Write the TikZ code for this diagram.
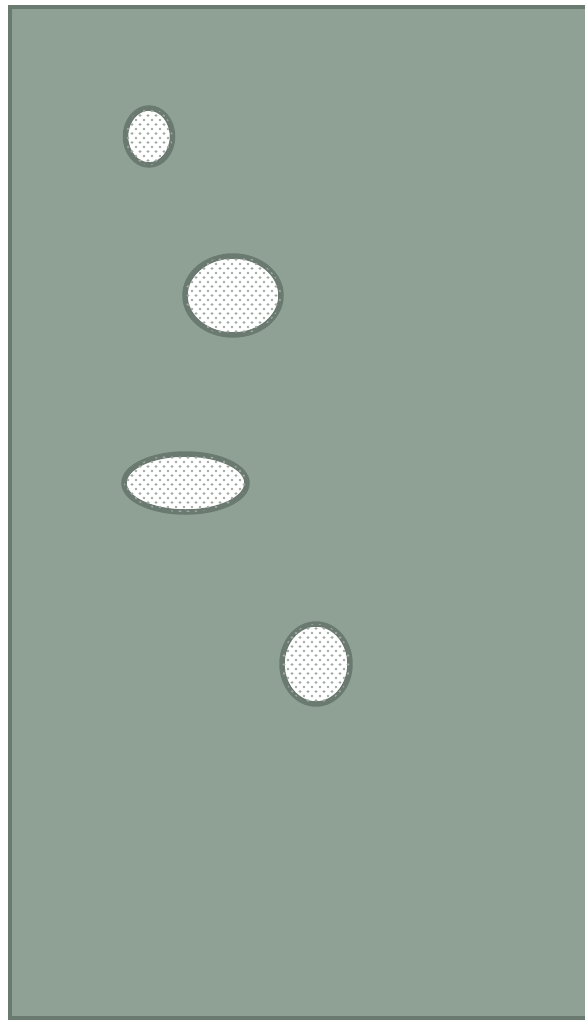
\documentclass[tikz,border=0pt]{standalone}
\usetikzlibrary{patterns.meta}
\definecolor{bgfill}{HTML}{8FA194}
\definecolor{edge}{HTML}{6A7A70}
\definecolor{dotc}{HTML}{9EA9A1}
\tikzdeclarepattern{
  name=sparsedots,
  type=uncolored,
  bounding box={(-4pt,-4.5pt) and (4pt,4.5pt)},
  tile size={(8pt,9pt)},
  code={
    \fill (0pt,0pt) circle (1.3pt);
    \fill (-4pt,-4.5pt) circle (1.3pt);
    \fill (4pt,4.5pt) circle (1.3pt);
    \fill (-4pt,4.5pt) circle (1.3pt);
    \fill (4pt,-4.5pt) circle (1.3pt);
  }
}
\tikzset{
  panel/.style={draw=edge, fill=bgfill, line width=4pt},
  hole/.style={draw=edge, line width=5.5pt, fill=white, postaction={pattern={sparsedots}, pattern color=dotc}}
}
\begin{document}
\begin{tikzpicture}[x=1pt,y=-1pt]
\useasboundingbox (0,0) rectangle (585,1020);
\draw[panel] (9.5,6.5) rectangle (600,1017.5);
\path[hole] (149,136.5) ellipse [x radius=23.5, y radius=28.5];
\path[hole] (233,295.5) ellipse [x radius=48, y radius=39.5];
\path[hole] (185.5,483) ellipse [x radius=61.5, y radius=29];
\path[hole] (316,664) ellipse [x radius=34, y radius=40];
\end{tikzpicture}
\end{document}
